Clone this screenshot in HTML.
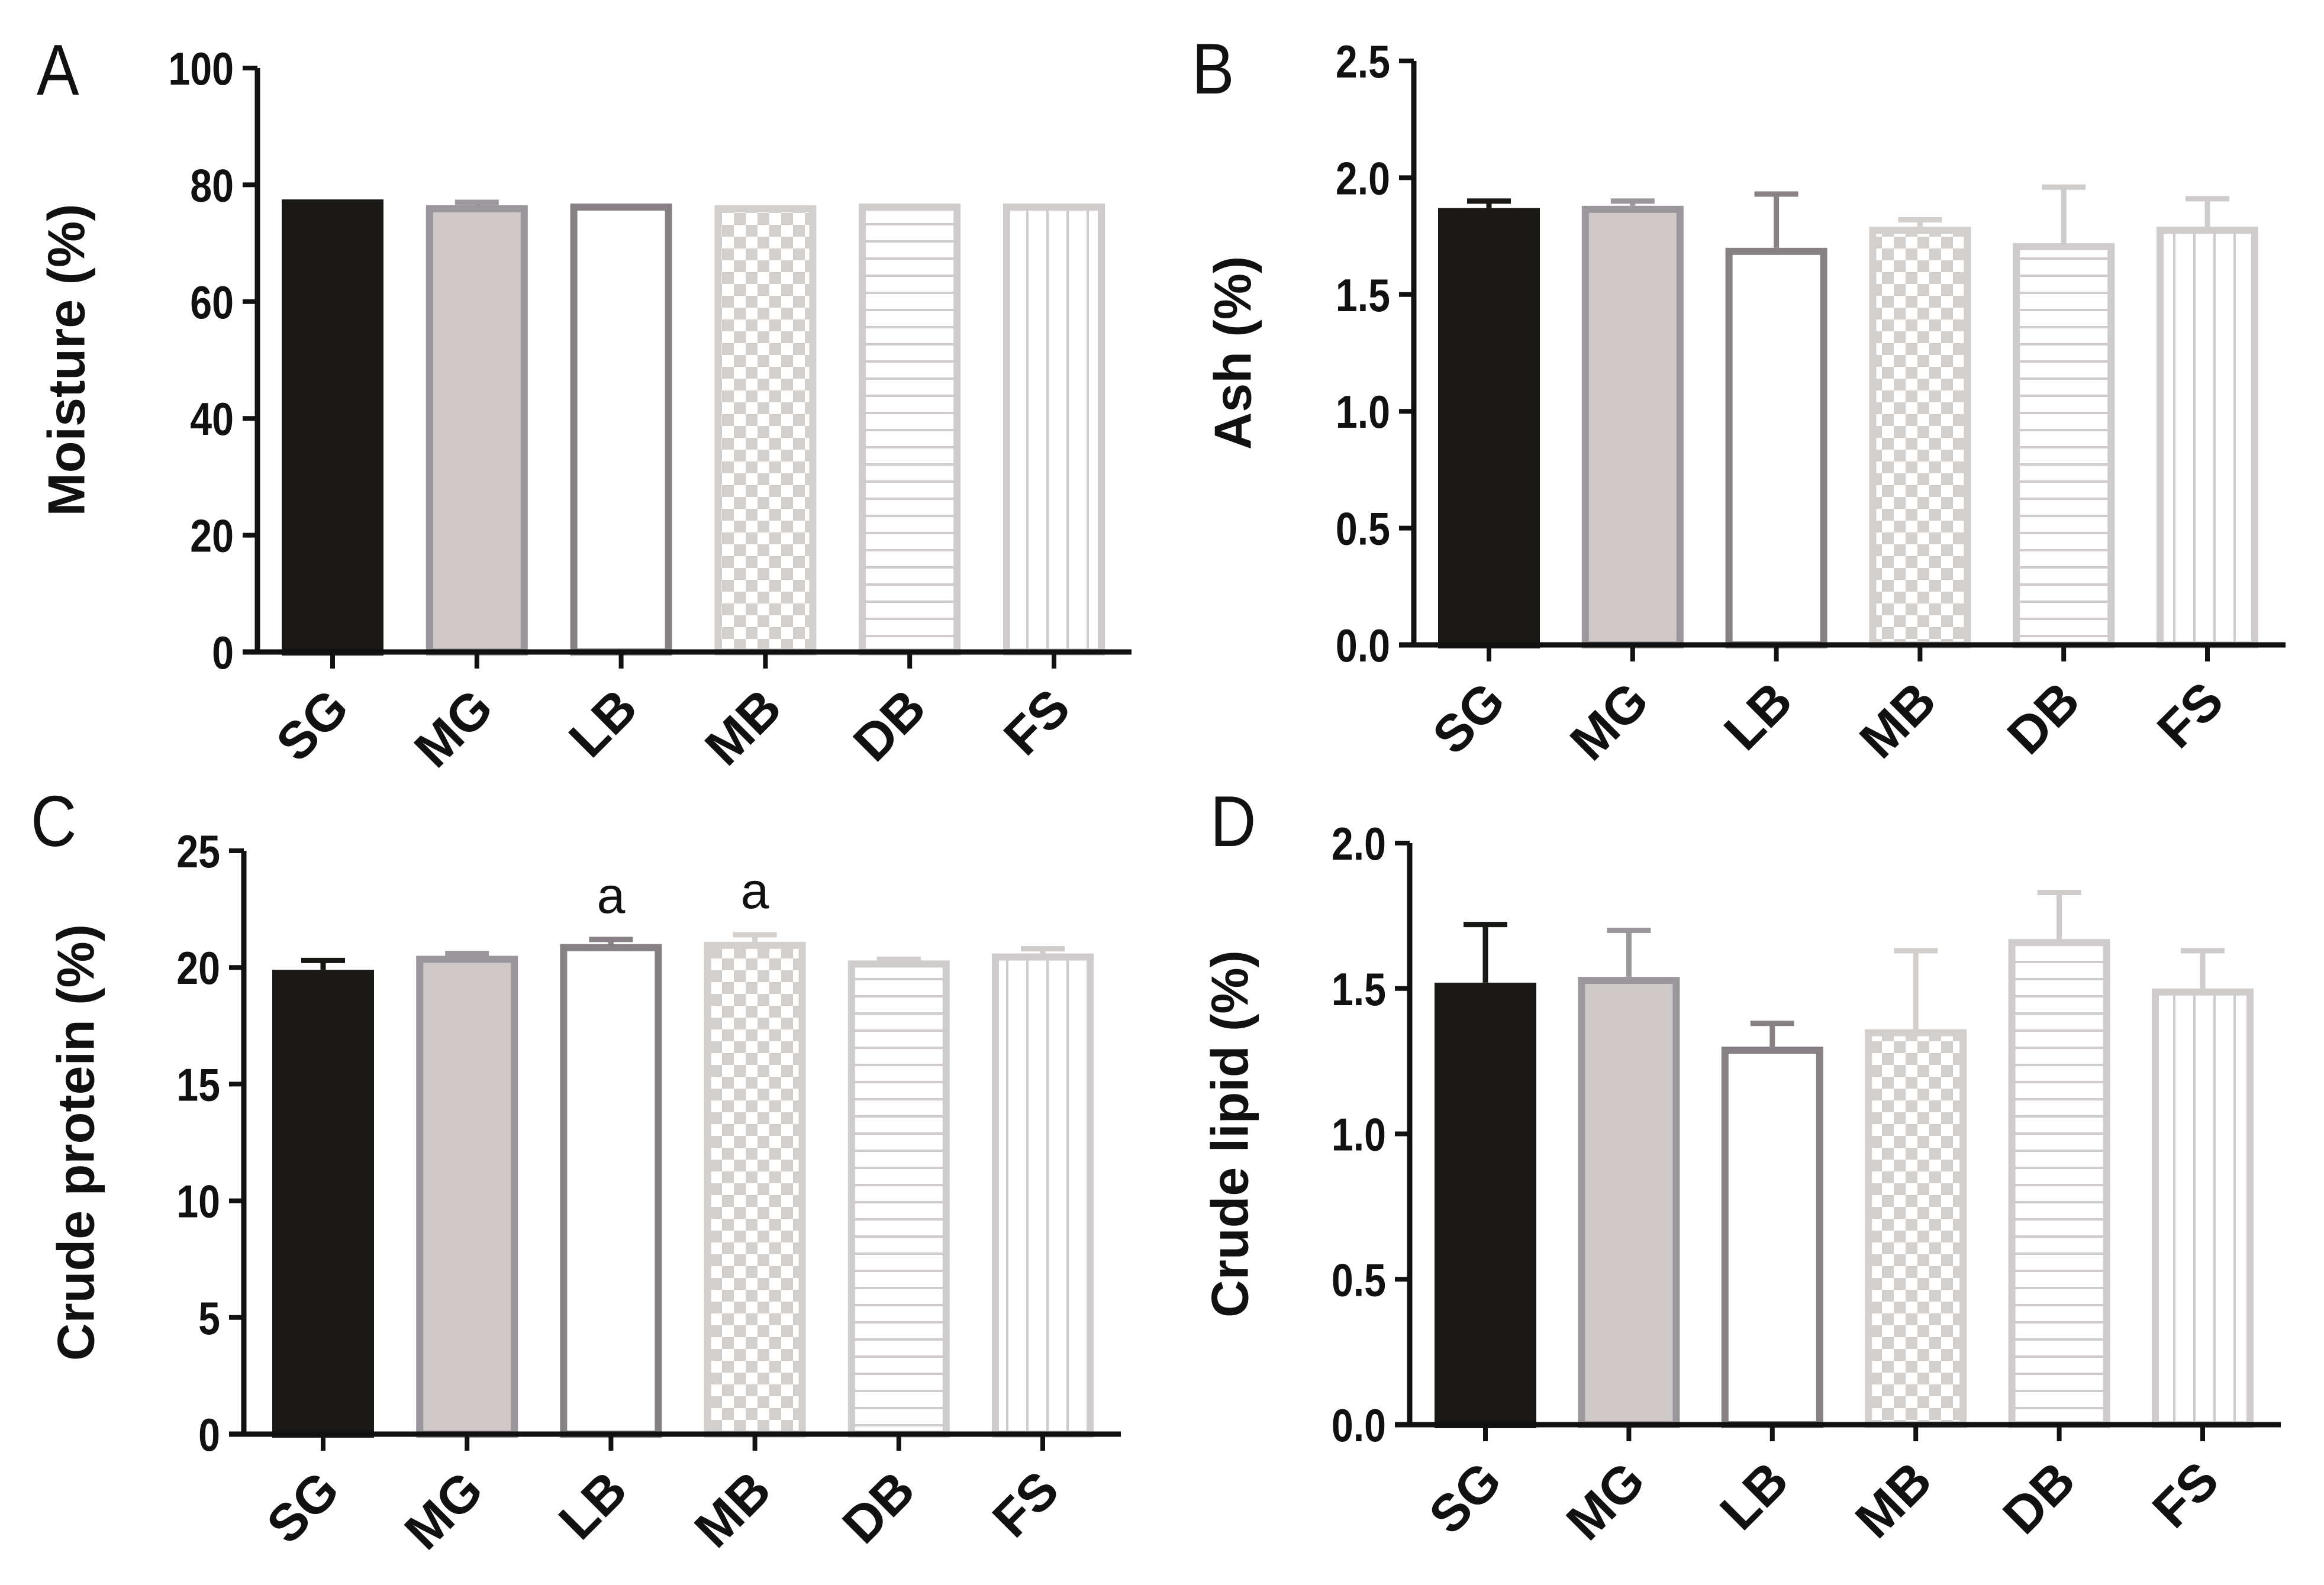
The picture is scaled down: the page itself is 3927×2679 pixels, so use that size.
<!DOCTYPE html>
<html><head><meta charset="utf-8"><style>
html,body{margin:0;padding:0;background:#fff;}
svg{display:block;}
</style></head><body>
<svg id="fig" width="3927" height="2679" viewBox="0 0 3927 2679" xmlns="http://www.w3.org/2000/svg">
<defs>
<pattern id="checker" patternUnits="userSpaceOnUse" width="40" height="40">
<rect width="40" height="40" fill="#ffffff"/>
<rect width="20" height="20" fill="#d3cfcc"/>
<rect x="20" y="20" width="20" height="20" fill="#d3cfcc"/>
</pattern>
<pattern id="hlines" patternUnits="userSpaceOnUse" width="40" height="29">
<rect width="40" height="29" fill="#ffffff"/>
<rect y="0" width="40" height="4" fill="#d0cccc"/>
</pattern>
<pattern id="vlines" patternUnits="userSpaceOnUse" width="34" height="40">
<rect width="34" height="40" fill="#ffffff"/>
<rect x="0" width="4" height="40" fill="#d0cccc"/>
</pattern>
</defs>
<rect width="3927" height="2679" fill="#ffffff"/>
</svg>
<script>
const categories = ["SG","MG","LB","MB","DB","FS"];
const moistureValues = [77.5, 76.5, 76.8, 76.5, 76.8, 76.8];
const moistureErrors = [0, 0.5, 0, 0, 0, 0];
const ashValues = [1.87, 1.88, 1.70, 1.79, 1.72, 1.79];
const ashErrors = [0.03, 0.02, 0.23, 0.03, 0.24, 0.12];
const proteinValues = [19.9, 20.5, 21.0, 21.1, 20.3, 20.6];
const proteinErrors = [0.4, 0.1, 0.2, 0.3, 0.05, 0.2];
const lipidValues = [1.52, 1.54, 1.30, 1.36, 1.67, 1.50];
const lipidErrors = [0.20, 0.16, 0.08, 0.27, 0.16, 0.13];
const moistureTicks = ["0","20","40","60","80","100"];
const ashTicks = ["0.0","0.5","1.0","1.5","2.0","2.5"];
const proteinTicks = ["0","5","10","15","20","25"];
const lipidTicks = ["0.0","0.5","1.0","1.5","2.0"];
const proteinMarks = ["", "", "a", "a", "", ""];

const NS = "http://www.w3.org/2000/svg";
const svg = document.getElementById('fig');
function mk(tag, attrs, parent){
  const e = document.createElementNS(NS, tag);
  for (const k in attrs) e.setAttribute(k, attrs[k]);
  (parent||svg).appendChild(e);
  return e;
}
const fills = ["#1a1814","#cfc9c7","#ffffff","url(#checker)","url(#hlines)","url(#vlines)"];
const strokes = ["#1a1814","#9c979c","#878186","#d3cfcc","#d0cccc","#d0cccc"];

const panels = [
 {key:"a",letter:"A",lx:62,ly:160,axisX:435,top:115,zero:1102,right:1912,ymax:100,ticks:moistureTicks,vals:moistureValues,errs:moistureErrors,c0:562,c5:1781,title:"Moisture (%)",tx:112,marks:null},
 {key:"b",letter:"B",lx:2014,ly:158,axisX:2389,top:103,zero:1090,right:3862,ymax:2.5,ticks:ashTicks,vals:ashValues,errs:ashErrors,c0:2516,c5:3730,title:"Ash (%)",tx:2083,marks:null},
 {key:"c",letter:"C",lx:52,ly:1430,axisX:412,top:1438,zero:2424,right:1894,ymax:25,ticks:proteinTicks,vals:proteinValues,errs:proteinErrors,c0:546,c5:1762,title:"Crude protein (%)",tx:128,marks:proteinMarks},
 {key:"d",letter:"D",lx:2045,ly:1430,axisX:2382,top:1425,zero:2408,right:3854,ymax:2.0,ticks:lipidTicks,vals:lipidValues,errs:lipidErrors,c0:2510,c5:3722,title:"Crude lipid (%)",tx:2078,marks:null}
];

panels.forEach(p=>{
  const g = mk('g',{});
  
  
  const yS = v => p.zero - (v/p.ymax)*(p.zero-p.top);
  const xS = i => p.c0 + i*(p.c5-p.c0)/(categories.length-1);
  const L = mk('text',{x:p.lx,y:p.ly,'font-family':'Liberation Sans, sans-serif','font-size':122,fill:'#111',transform:`translate(${p.lx},0) scale(0.88,1) translate(${-p.lx},0)`},g);
  L.textContent = p.letter;
  
  
  p.vals.forEach((v,i)=>{
    const cx = xS(i), w = 172, sw = 12;
    const yt = yS(v);
    const bar = mk('rect',{x:cx-w/2+sw/2,y:yt+sw/2,width:w-sw,height:p.zero-yt-sw/2,fill:fills[i],stroke:strokes[i],'stroke-width':sw},g);
    
    
    if (p.errs[i] > 0){
      const ye = yS(v+p.errs[i]);
      const eb = mk('path',{d:`M${cx},${yt} L${cx},${ye} M${cx-37},${ye} L${cx+37},${ye}`,stroke:strokes[i],'stroke-width':9,fill:'none'},g);
      
      
    }
    if (p.marks && p.marks[i]){
      const m = mk('text',{x:cx,y:yS(v+p.errs[i])-45,'text-anchor':'middle','font-family':'Liberation Sans, sans-serif','font-size':86,fill:'#111'},g);
      m.textContent = p.marks[i];
      
      
    }
    const tk = mk('line',{x1:cx,y1:p.zero,x2:cx,y2:p.zero+28,stroke:'#111','stroke-width':8},g);
    
    
    const ax = cx+32, ay = p.zero+100;
    const t = mk('text',{x:ax,y:ay,'text-anchor':'end','font-family':'Liberation Sans, sans-serif','font-weight':'bold','font-size':88,fill:'#111',transform:`rotate(-45 ${ax} ${ay})`},g);
    t.textContent = categories[i];
    
    
  });
  const ya = mk('line',{x1:p.axisX,y1:p.top,x2:p.axisX,y2:p.zero+4,stroke:'#111','stroke-width':9},g);
  
  
  const xa = mk('line',{x1:p.axisX-25,y1:p.zero,x2:p.right,y2:p.zero,stroke:'#111','stroke-width':9},g);
  
  
  p.ticks.forEach((lab,k)=>{
    const val = k*p.ymax/(p.ticks.length-1);
    const y = yS(val);
    const tl = mk('line',{x1:p.axisX-25,y1:y,x2:p.axisX,y2:y,stroke:'#111','stroke-width':8},g);
    
    
    const x = p.axisX-40;
    const tt = mk('text',{x:0,y:0,'text-anchor':'end','font-family':'Liberation Sans, sans-serif','font-weight':'bold','font-size':78,fill:'#111',transform:`translate(${x},${y+28}) scale(0.85,1)`},g);
    tt.textContent = lab;
    
    
  });
  const cy = (p.top+p.zero)/2;
  const ti = mk('text',{x:p.tx,y:cy,'text-anchor':'middle','dominant-baseline':'central','font-family':'Liberation Sans, sans-serif','font-weight':'bold','font-size':88,fill:'#111',transform:`rotate(-90 ${p.tx} ${cy})`},g);
  ti.textContent = p.title;
  
  
});
</script>
</body></html>
